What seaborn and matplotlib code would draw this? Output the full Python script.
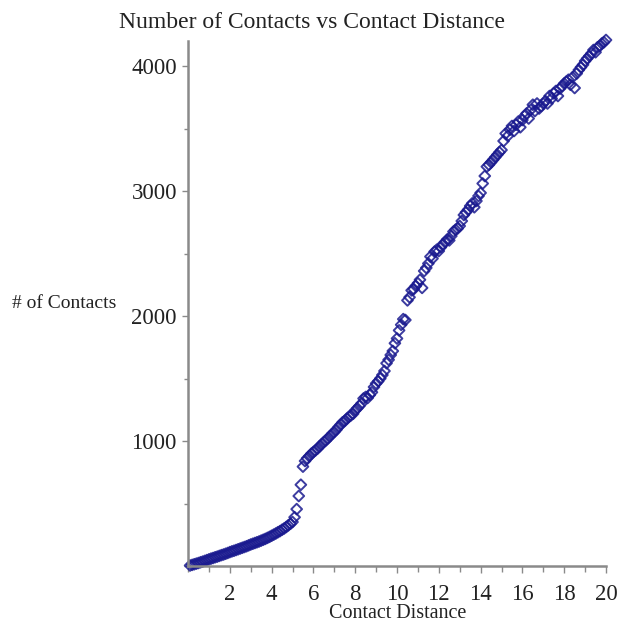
import numpy as np
import pandas as pd
import matplotlib
matplotlib.use("Agg")
import matplotlib.pyplot as plt
import seaborn as sns
from matplotlib.ticker import MultipleLocator

# Contact distance (0.1 steps) and number of contacts counted at each distance
distance = [round(0.1 * i, 1) for i in range(1, 201)]
contacts = [
    4, 9, 14, 19, 24, 30, 35, 41, 47, 53,
    59, 64, 70, 75, 81, 87, 92, 98, 104, 111,
    117, 122, 128, 134, 140, 146, 152, 158, 165, 172,
    178, 184, 190, 196, 203, 210, 217, 225, 233, 242,
    251, 260, 270, 279, 290, 300, 312, 325, 338, 352,
    390, 455, 560, 650, 795, 840, 862, 878, 898, 912,
    925, 940, 958, 975, 992, 1005, 1022, 1040, 1058, 1072,
    1090, 1112, 1130, 1150, 1160, 1178, 1195, 1205, 1218, 1245,
    1262, 1280, 1300, 1340, 1352, 1345, 1368, 1390, 1432, 1460,
    1478, 1500, 1528, 1560, 1622, 1650, 1688, 1720, 1782, 1820,
    1885, 1930, 1975, 1968, 2125, 2150, 2205, 2215, 2240, 2262,
    2290, 2225, 2360, 2385, 2420, 2475, 2460, 2515, 2530, 2520,
    2550, 2575, 2590, 2612, 2605, 2640, 2675, 2690, 2700, 2720,
    2760, 2808, 2830, 2850, 2880, 2901, 2870, 2920, 2960, 2985,
    3060, 3120, 3195, 3210, 3230, 3250, 3270, 3290, 3310, 3328,
    3400, 3460, 3440, 3490, 3520, 3480, 3530, 3555, 3510, 3568,
    3600, 3620, 3580, 3650, 3690, 3640, 3700, 3660, 3680, 3700,
    3720, 3700, 3760, 3740, 3781, 3800, 3760, 3820, 3840, 3860,
    3875, 3890, 3850, 3910, 3824, 3940, 3968, 3990, 4010, 4040,
    4060, 4080, 4100, 4128, 4110, 4150, 4160, 4180, 4190, 4208,
]
x_ticks = [2, 4, 6, 8, 10, 12, 14, 16, 18, 20]
y_ticks = [1000, 2000, 3000, 4000]

df = pd.DataFrame({"Contact Distance": distance, "# of Contacts": contacts})

sns.set_style("white")
plt.rcParams["font.family"] = ["Liberation Serif", "DejaVu Serif"]

fig = plt.figure(figsize=(6.21, 6.22), dpi=100)
ax = fig.add_axes([188 / 621, 56 / 622, 418 / 621, 525 / 622])

navy = "#1a1a8f"
sns.scatterplot(
    data=df, x="Contact Distance", y="# of Contacts", ax=ax,
    marker="D", s=30, facecolor="none", edgecolor=navy, linewidth=1.4,
    alpha=0.85, legend=False, clip_on=False,
)

ax.set_xlim(0, 20)
ax.set_ylim(0, 4200)
ax.set_xticks(x_ticks)
ax.set_yticks(y_ticks)
ax.xaxis.set_minor_locator(MultipleLocator(1))
ax.yaxis.set_minor_locator(MultipleLocator(500))

for side in ("top", "right"):
    ax.spines[side].set_visible(False)
for side in ("left", "bottom"):
    ax.spines[side].set_color("#8a8a8a")
    ax.spines[side].set_linewidth(1.8)

ax.tick_params(axis="both", which="both", direction="out", colors="#8a8a8a",
               labelcolor="#222222", labelsize=16.5, bottom=True, left=True,
               top=False, right=False)
ax.tick_params(axis="x", which="major", length=5, width=1, pad=8)
ax.tick_params(axis="x", which="minor", length=4, width=1)
ax.tick_params(axis="y", which="major", length=4, width=1, pad=4)
ax.tick_params(axis="y", which="minor", length=3, width=1)

ax.set_xlabel("")
ax.set_ylabel("")
fig.text(398 / 621, 1 - 613 / 622, "Contact Distance", ha="center", va="center",
         fontsize=14.5, color="#222222")
fig.text(64 / 621, 1 - 303 / 622, "# of Contacts", ha="center", va="center",
         fontsize=14, color="#222222")
fig.text(312 / 621, 1 - 23 / 622, "Number of Contacts vs Contact Distance",
         ha="center", va="center", fontsize=17, color="#222222")

fig.savefig("out.png", dpi=100)
